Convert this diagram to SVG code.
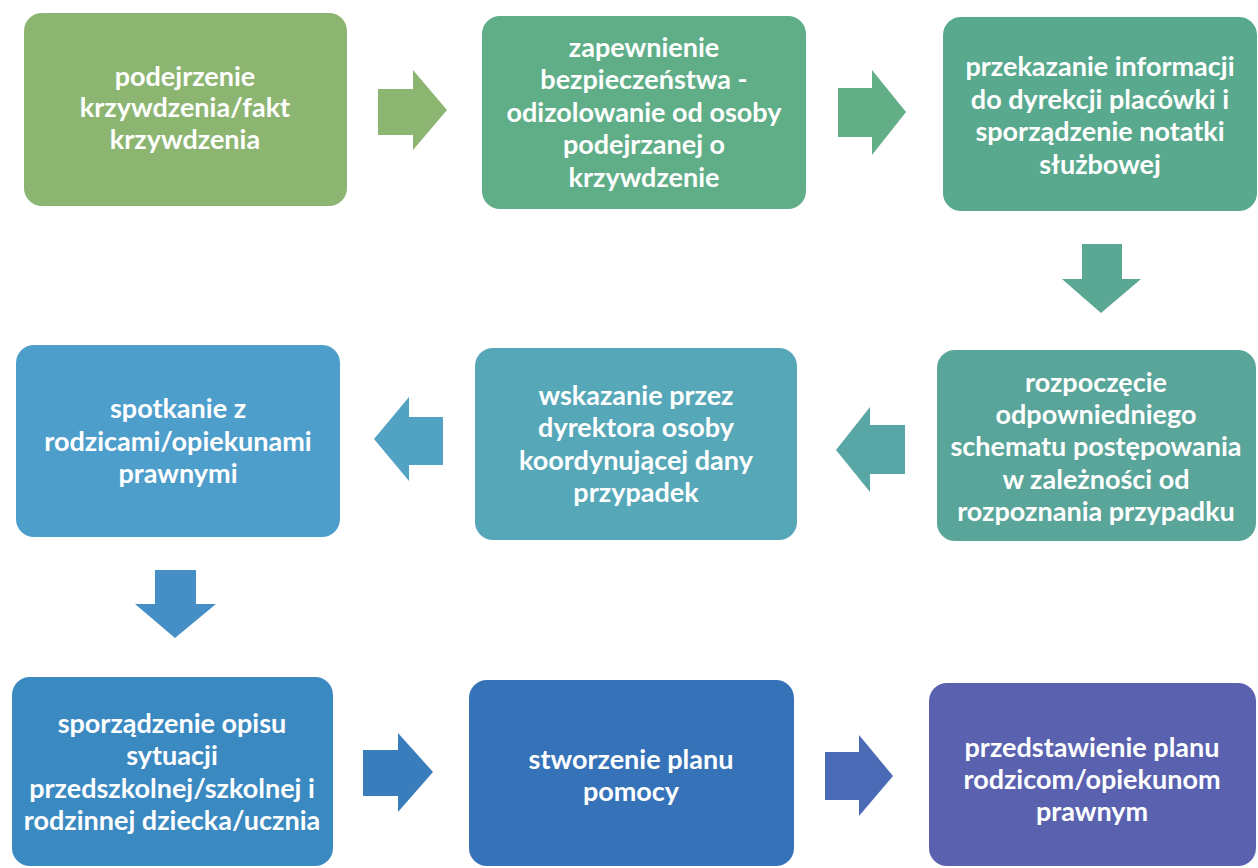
<svg xmlns="http://www.w3.org/2000/svg" width="1258" height="868" viewBox="0 0 1258 868">
<style>
.box{stroke:none}
.t{font-family:Lato,"Liberation Sans",sans-serif;font-weight:700;font-size:27px;fill:#ffffff;text-anchor:middle}
</style>
<rect width="1258" height="868" fill="#ffffff"/>
<g id="connectors">
<polygon id="a1" points="378,89 413,89 413,70 447,110 413,150 413,135 378,135" fill="#8db572"/>
<polygon id="a2" points="838,88 872,88 872,70 906,112 872,155 872,137 838,137" fill="#62ae86"/>
<polygon id="a3" points="1082,244 1122,244 1122,279 1141,279 1101,313 1062,279 1082,279" fill="#5aa794"/>
<polygon id="a4" points="905,425 870,425 870,407 836,450 870,492 870,474 905,474" fill="#58a7a6"/>
<polygon id="a5" points="443,417 409,417 409,397 374,439 409,481 409,465 443,465" fill="#51a2c3"/>
<polygon id="a6" points="155,570 196,570 196,604 216,604 175,638 135,604 155,604" fill="#458fc6"/>
<polygon id="a7" points="363,750 398,750 398,733 433,772 398,812 398,796 363,796" fill="#3a7dbd"/>
<polygon id="a8" points="825,752 859,752 859,735 893,776 859,816 859,800 825,800" fill="#4a6ab6"/>
</g>
<g id="n1"><rect class="box" x="24" y="13" width="323" height="193" rx="18" fill="#8db572"/>
<text class="t"><tspan x="185" y="86">podejrzenie</tspan><tspan x="185" y="117">krzywdzenia/fakt</tspan><tspan x="185" y="149">krzywdzenia</tspan></text></g>
<g id="n2"><rect class="box" x="482" y="16" width="324" height="193" rx="18" fill="#5fae88"/>
<text class="t"><tspan x="644" y="57">zapewnienie</tspan><tspan x="644" y="89">bezpieczeństwa -</tspan><tspan x="644" y="122">odizolowanie od osoby</tspan><tspan x="644" y="154">podejrzanej o</tspan><tspan x="644" y="187">krzywdzenie</tspan></text></g>
<g id="n3"><rect class="box" x="943" y="17" width="314" height="194" rx="18" fill="#59a98e"/>
<text class="t"><tspan x="1100" y="76">przekazanie informacji</tspan><tspan x="1100" y="109">do dyrekcji placówki i</tspan><tspan x="1100" y="141">sporządzenie notatki</tspan><tspan x="1100" y="174">służbowej</tspan></text></g>
<g id="n4"><rect class="box" x="937" y="350" width="319" height="191" rx="18" fill="#5aa59a"/>
<text class="t"><tspan x="1096" y="392">rozpoczęcie</tspan><tspan x="1096" y="424">odpowniedniego</tspan><tspan x="1096" y="456">schematu postępowania</tspan><tspan x="1096" y="489">w zależności od</tspan><tspan x="1096" y="521">rozpoznania przypadku</tspan></text></g>
<g id="n5"><rect class="box" x="475" y="348" width="322" height="192" rx="18" fill="#56a8b8"/>
<text class="t"><tspan x="636" y="405">wskazanie przez</tspan><tspan x="636" y="437">dyrektora osoby</tspan><tspan x="636" y="470">koordynującej dany</tspan><tspan x="636" y="502">przypadek</tspan></text></g>
<g id="n6"><rect class="box" x="16" y="345" width="324" height="192" rx="18" fill="#4e9ecc"/>
<text class="t"><tspan x="178" y="418">spotkanie z</tspan><tspan x="178" y="451">rodzicami/opiekunami</tspan><tspan x="178" y="483">prawnymi</tspan></text></g>
<g id="n7"><rect class="box" x="12" y="677" width="321" height="189" rx="18" fill="#3b89c1"/>
<text class="t"><tspan x="172" y="733">sporządzenie opisu</tspan><tspan x="172" y="765">sytuacji</tspan><tspan x="172" y="798">przedszkolnej/szkolnej i</tspan><tspan x="172" y="830">rodzinnej dziecka/ucznia</tspan></text></g>
<g id="n8"><rect class="box" x="469" y="680" width="325" height="186" rx="18" fill="#3672b8"/>
<text class="t"><tspan x="631" y="769">stworzenie planu</tspan><tspan x="631" y="801">pomocy</tspan></text></g>
<g id="n9"><rect class="box" x="929" y="683" width="327" height="183" rx="18" fill="#5a62b0"/>
<text class="t"><tspan x="1092" y="757">przedstawienie planu</tspan><tspan x="1092" y="789">rodzicom/opiekunom</tspan><tspan x="1092" y="821">prawnym</tspan></text></g>
</svg>
